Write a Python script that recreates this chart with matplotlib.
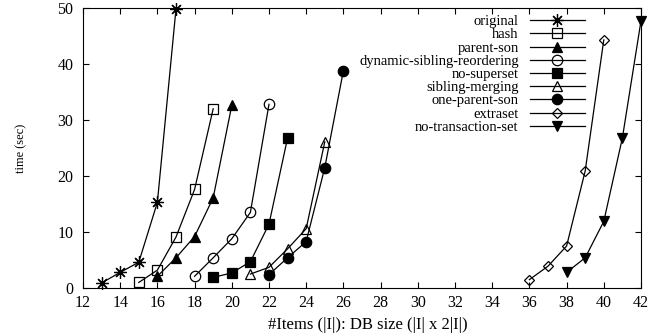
import matplotlib.pyplot as plt

plt.rcParams['font.family'] = ['Liberation Serif', 'DejaVu Serif']

# Series data: x = #items, y = time (sec)
original_x = [13, 14, 15, 16, 17]
original_y = [0.9, 2.8, 4.6, 15.3, 49.8]

hash_x = [15, 16, 17, 18, 19]
hash_y = [1.0, 3.2, 9.1, 17.6, 32.0]

parent_son_x = [16, 17, 18, 19, 20]
parent_son_y = [2.1, 5.4, 9.2, 16.1, 32.6]

dynamic_x = [18, 19, 20, 21, 22]
dynamic_y = [2.1, 5.4, 8.8, 13.5, 32.8]

no_superset_x = [19, 20, 21, 22, 23]
no_superset_y = [1.9, 2.7, 4.7, 11.4, 26.8]

sibling_x = [21, 22, 23, 24, 25]
sibling_y = [2.5, 3.7, 7.0, 10.6, 26.1]

one_parent_x = [22, 23, 24, 25, 26]
one_parent_y = [2.4, 5.4, 8.3, 21.5, 38.8]

extraset_x = [36, 37, 38, 39, 40]
extraset_y = [1.5, 3.9, 7.5, 20.9, 44.3]

no_trans_x = [38, 39, 40, 41, 42]
no_trans_y = [2.8, 5.4, 11.9, 26.8, 47.7]

x_ticks = list(range(12, 43, 2))
y_ticks = [0, 10, 20, 30, 40, 50]

fig = plt.figure(figsize=(6.67, 3.33), dpi=100)
ax = fig.add_axes([0.1244, 0.135, 0.8366, 0.841])

# (label, x, y, marker, facecolor)
series = [
    ('original', original_x, original_y, '*', 'none'),
    ('hash', hash_x, hash_y, 's', 'none'),
    ('parent-son', parent_son_x, parent_son_y, '^', 'black'),
    ('dynamic-sibling-reordering', dynamic_x, dynamic_y, 'o', 'none'),
    ('no-superset', no_superset_x, no_superset_y, 's', 'black'),
    ('sibling-merging', sibling_x, sibling_y, '^', 'none'),
    ('one-parent-son', one_parent_x, one_parent_y, 'o', 'black'),
    ('extraset', extraset_x, extraset_y, 'D', 'none'),
    ('no-transaction-set', no_trans_x, no_trans_y, 'v', 'black'),
]

for label, xs, ys, mk, fc in series:
    size = 7.5
    if mk == 'D':
        size = 5.5
    if mk == '*':
        # gnuplot style asterisk (+ and x together)
        mk = (8, 2, 0)
        size = 9
    ax.plot(xs, ys, color='black', lw=0.9, marker=mk, markersize=size,
            markerfacecolor=fc, markeredgecolor='black', markeredgewidth=0.9,
            label=label, clip_on=False)

ax.set_xlim(12, 42)
ax.set_ylim(0, 50)
ax.set_xticks(x_ticks)
ax.set_yticks(y_ticks)
ax.tick_params(direction='in', top=True, right=True, labelsize=11.5, length=4)
ax.tick_params(axis='x', pad=5)
ax.tick_params(axis='y', pad=7)

ax.set_xlabel('#Items (|I|): DB size (|I| x 2|I|)', fontsize=12)
ax.xaxis.set_label_coords(0.511, -0.105)
ax.set_ylabel('time (sec)', fontsize=9)
ax.yaxis.set_label_coords(-0.100, 0.5)

ax.legend(loc='upper right', bbox_to_anchor=(585 / 667, 1 - 15 / 333),
          bbox_transform=fig.transFigure, frameon=False,
          markerfirst=False, fontsize=10.5, labelspacing=0.0, handlelength=3.8,
          handletextpad=0.75, borderpad=0, borderaxespad=0)

plt.savefig('out.png', dpi=100)
